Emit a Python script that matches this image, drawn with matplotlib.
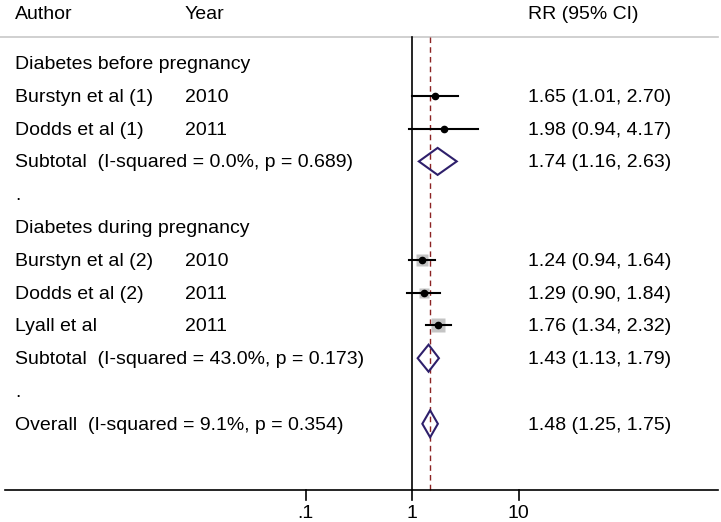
import matplotlib.pyplot as plt
import matplotlib.transforms as mtransforms
import numpy as np
from matplotlib.patches import Polygon

plt.rcParams["font.family"] = ["Liberation Sans", "DejaVu Sans"]

# rows of the forest plot, top to bottom
labels = ["Diabetes before pregnancy", "Burstyn et al (1)", "Dodds et al (1)",
          "Subtotal  (I-squared = 0.0%, p = 0.689)", ".",
          "Diabetes during pregnancy", "Burstyn et al (2)", "Dodds et al (2)",
          "Lyall et al", "Subtotal  (I-squared = 43.0%, p = 0.173)", ".",
          "Overall  (I-squared = 9.1%, p = 0.354)"]
years = ["", "2010", "2011", "", "", "", "2010", "2011", "2011", "", "", ""]
kind = ["head", "study", "study", "pool", "blank", "head", "study", "study",
        "study", "pool", "blank", "pool"]
rr = [None, 1.65, 1.98, 1.74, None, None, 1.24, 1.29, 1.76, 1.43, None, 1.48]
lo = [None, 1.01, 0.94, 1.16, None, None, 0.94, 0.90, 1.34, 1.13, None, 1.25]
hi = [None, 2.70, 4.17, 2.63, None, None, 1.64, 1.84, 2.32, 1.79, None, 1.75]
weight = [0, 2, 1, 0, 0, 0, 16, 10, 22, 0, 0, 0]
overall = 1.48
ticks = [0.1, 1, 10]
tick_labels = [".1", "1", "10"]

W, H = 721, 522
fig = plt.figure(figsize=(W / 100, H / 100), dpi=100)
ax = fig.add_axes([0, 0, 1, 1])
ax.set_xscale("log")
decade = 106.5
x1 = 412
ax.set_xlim(10 ** ((0 - x1) / decade), 10 ** ((W - x1) / decade))
ax.set_ylim(H, 0)
ax.axis("off")

tx = mtransforms.blended_transform_factory(ax.transAxes, ax.transData)
fs = 14
dy = 1.5  # text sits a touch lower than the marks

row_y = 63 + 32.8 * np.arange(len(labels))
axis_y = 490

# header
ax.text(15 / W, 13 + dy, "Author", transform=tx, fontsize=fs, va="center")
ax.text(185 / W, 13 + dy, "Year", transform=tx, fontsize=fs, va="center")
ax.text(528 / W, 13 + dy, "RR (95% CI)", transform=tx, fontsize=fs, va="center")
ax.plot([0, 718 / W], [37, 37], transform=tx, color="#c8c8c8", lw=1.2)

# reference lines
ax.plot([1, 1], [37, axis_y], color="black", lw=1.2)
ax.plot([overall, overall], [37, axis_y], color="#8b2323", lw=1, ls=(0, (4, 3)))

for i, lab in enumerate(labels):
    y = row_y[i]
    ax.text(15 / W, y + dy, lab, transform=tx, fontsize=fs, va="center")
    if years[i]:
        ax.text(185 / W, y + dy, years[i], transform=tx, fontsize=fs, va="center")
    if rr[i] is None:
        continue
    ax.text(528 / W, y + dy, f"{rr[i]:.2f} ({lo[i]:.2f}, {hi[i]:.2f})",
            transform=tx, fontsize=fs, va="center")
    if kind[i] == "study":
        if weight[i] > 0:
            ax.plot(rr[i], y, marker="s", ms=np.sqrt(weight[i]) * 2.1,
                    color="#c4c4c4", mec="none", zorder=2)
        ax.plot([lo[i], hi[i]], [y, y], color="black", lw=1.5, zorder=3)
        ax.plot(rr[i], y, "o", color="black", ms=4.5, zorder=4)
    else:
        h = 13.5
        poly = Polygon([[lo[i], y], [rr[i], y - h], [hi[i], y], [rr[i], y + h]],
                       closed=True, fill=False, edgecolor="#2e1f6b", lw=1.5,
                       zorder=4)
        ax.add_patch(poly)

# x axis
ax.plot([5 / W, 718 / W], [axis_y, axis_y], transform=tx, color="black", lw=1.2)
for t, tl in zip(ticks, tick_labels):
    ax.plot([t, t], [axis_y, axis_y + 10], color="black", lw=1.2)
    ax.text(t, 514, tl, fontsize=fs, ha="center", va="center")

fig.savefig("out.png", dpi=100)
